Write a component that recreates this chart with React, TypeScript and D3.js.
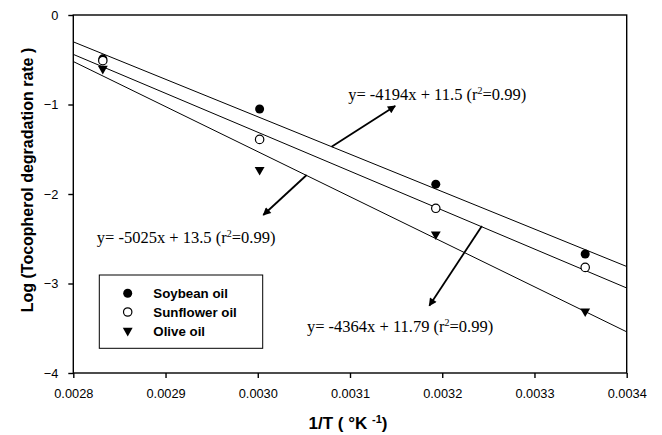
import React, { useEffect, useRef } from "react";
import * as d3 from "d3";

// 1/T values (1/K) for 80, 60, 40, 25 °C
const invT = [0.002832, 0.003002, 0.003193, 0.003355];
const soybean = [-0.49, -1.05, -1.89, -2.67];
const sunflower = [-0.51, -1.39, -2.16, -2.82];
const olive = [-0.6, -1.73, -2.45, -3.31];

// regression line end points (x = 0.0028 and x = 0.0034)
const fitX = [0.0028, 0.0034];
const soybeanFit = [-0.3, -2.81];
const sunflowerFit = [-0.44, -3.05];
const oliveFit = [-0.52, -3.54];

const xTicks = [0.0028, 0.0029, 0.003, 0.0031, 0.0032, 0.0033, 0.0034];
const yTicks = [0, -1, -2, -3, -4];

const legendNames = ["Soybean oil", "Sunflower oil", "Olive oil"];

// annotations: arrow from a line to its equation (data units)
const notes = [
  { eq: "y= -4194x + 11.5 (r", from: [0.00308, -1.471], to: [0.003149, -1.017], text: [0.003098, -0.95] },
  { eq: "y= -5025x + 13.5 (r", from: [0.003053, -1.788], to: [0.003006, -2.235], text: [0.0028254, -2.547] },
  { eq: "y= -4364x + 11.79 (r", from: [0.003243, -2.358], to: [0.003186, -3.248], text: [0.0030533, -3.538] },
];

export default function App() {
  const svgRef = useRef<SVGSVGElement>(null);

  useEffect(() => {
    const width = 662;
    const height = 435;
    const left = 73.3, right = 626.7, top = 15, bottom = 373;
    const sans = "Liberation Sans, Arial, sans-serif";
    const serif = "Liberation Serif, Times New Roman, serif";

    document.body.style.margin = "0";

    const svg = d3.select(svgRef.current)
      .attr("width", width)
      .attr("height", height)
      .style("display", "block");
    svg.selectAll("*").remove();

    const x = d3.scaleLinear().domain([0.0028, 0.0034]).range([left, right]);
    const y = d3.scaleLinear().domain([-4, 0]).range([bottom, top]);

    svg.append("defs").append("marker")
      .attr("id", "head")
      .attr("viewBox", "0 0 10 10")
      .attr("refX", 9).attr("refY", 5)
      .attr("markerWidth", 10).attr("markerHeight", 8)
      .attr("markerUnits", "userSpaceOnUse")
      .attr("orient", "auto")
      .append("path").attr("d", "M0,0 L10,5 L0,10 Z").attr("fill", "black");

    // frame
    svg.append("rect")
      .attr("x", left).attr("y", top)
      .attr("width", right - left).attr("height", bottom - top)
      .attr("fill", "none").attr("stroke", "black").attr("stroke-width", 1.4);

    // x axis
    const xAxis = svg.append("g")
      .attr("transform", `translate(0,${bottom})`)
      .call(d3.axisBottom(x).tickValues(xTicks).tickFormat(d3.format(".4f")).tickSize(5).tickPadding(11));
    xAxis.select(".domain").remove();
    xAxis.selectAll("text").attr("font-family", sans).attr("font-size", 12.8).attr("fill", "black");
    xAxis.selectAll("line").attr("stroke-width", 1.4);

    // y axis
    const yAxis = svg.append("g")
      .attr("transform", `translate(${left},0)`)
      .call(d3.axisLeft(y).tickValues(yTicks).tickFormat(d3.format("d")).tickSize(5).tickPadding(10));
    yAxis.select(".domain").remove();
    yAxis.selectAll("text").attr("font-family", sans).attr("font-size", 12.8).attr("fill", "black");
    yAxis.selectAll("line").attr("stroke-width", 1.4);

    // regression lines
    const line = d3.line<number>().x((_, i) => x(fitX[i])).y(d => y(d));
    [soybeanFit, sunflowerFit, oliveFit].forEach(f => {
      svg.append("path").attr("d", line(f)).attr("fill", "none").attr("stroke", "black").attr("stroke-width", 1);
    });

    // points
    const tri = d3.symbol().type(d3.symbolTriangle).size(42);
    const drawSoy = (g: any, cx: number, cy: number) =>
      g.append("circle").attr("cx", cx).attr("cy", cy).attr("r", 4.5).attr("fill", "black");
    const drawSun = (g: any, cx: number, cy: number) =>
      g.append("circle").attr("cx", cx).attr("cy", cy).attr("r", 4.2).attr("fill", "white").attr("stroke", "black").attr("stroke-width", 1.2);
    const drawOlive = (g: any, cx: number, cy: number) =>
      g.append("path").attr("d", tri()).attr("transform", `translate(${cx},${cy}) rotate(180)`).attr("fill", "black");

    invT.forEach((t, i) => drawSoy(svg, x(t), y(soybean[i])));
    invT.forEach((t, i) => drawOlive(svg, x(t), y(olive[i])));
    invT.forEach((t, i) => drawSun(svg, x(t), y(sunflower[i])));

    // annotations
    notes.forEach(n => {
      svg.append("line")
        .attr("x1", x(n.from[0])).attr("y1", y(n.from[1]))
        .attr("x2", x(n.to[0])).attr("y2", y(n.to[1]))
        .attr("stroke", "black").attr("stroke-width", 1.8)
        .attr("marker-end", "url(#head)");
      const t = svg.append("text")
        .attr("x", x(n.text[0])).attr("y", y(n.text[1]))
        .attr("font-family", serif).attr("font-size", 16.5).attr("fill", "black");
      t.append("tspan").text(n.eq);
      t.append("tspan").attr("dy", -6).attr("font-size", 10).text("2");
      t.append("tspan").attr("dy", 6).text("=0.99)");
    });

    // legend
    const lg = svg.append("g");
    lg.append("rect").attr("x", 99.3).attr("y", 275).attr("width", 163.4).attr("height", 73.3)
      .attr("fill", "white").attr("stroke", "black").attr("stroke-width", 1);
    const drawers = [drawSoy, drawSun, drawOlive];
    legendNames.forEach((name, i) => {
      const cy = 293.3 + i * 18.7;
      drawers[i](lg, 127.7, cy);
      lg.append("text").attr("x", 153.3).attr("y", cy + 4.8)
        .attr("font-family", sans).attr("font-weight", "bold").attr("font-size", 13.3)
        .text(name);
    });

    // axis titles
    const xl = svg.append("text")
      .attr("x", 348).attr("y", 429)
      .attr("text-anchor", "middle")
      .attr("font-family", sans).attr("font-weight", "bold").attr("font-size", 17);
    xl.append("tspan").text("1/T ( °K ");
    xl.append("tspan").attr("dy", -6).attr("font-size", 11).text("-1");
    xl.append("tspan").attr("dy", 6).text(")");

    svg.append("text")
      .attr("transform", `translate(32.5,180) rotate(-90)`)
      .attr("text-anchor", "middle")
      .attr("font-family", sans).attr("font-weight", "bold").attr("font-size", 16)
      .text("Log (Tocopherol degradation rate )");
  }, []);

  return <svg ref={svgRef}></svg>;
}
